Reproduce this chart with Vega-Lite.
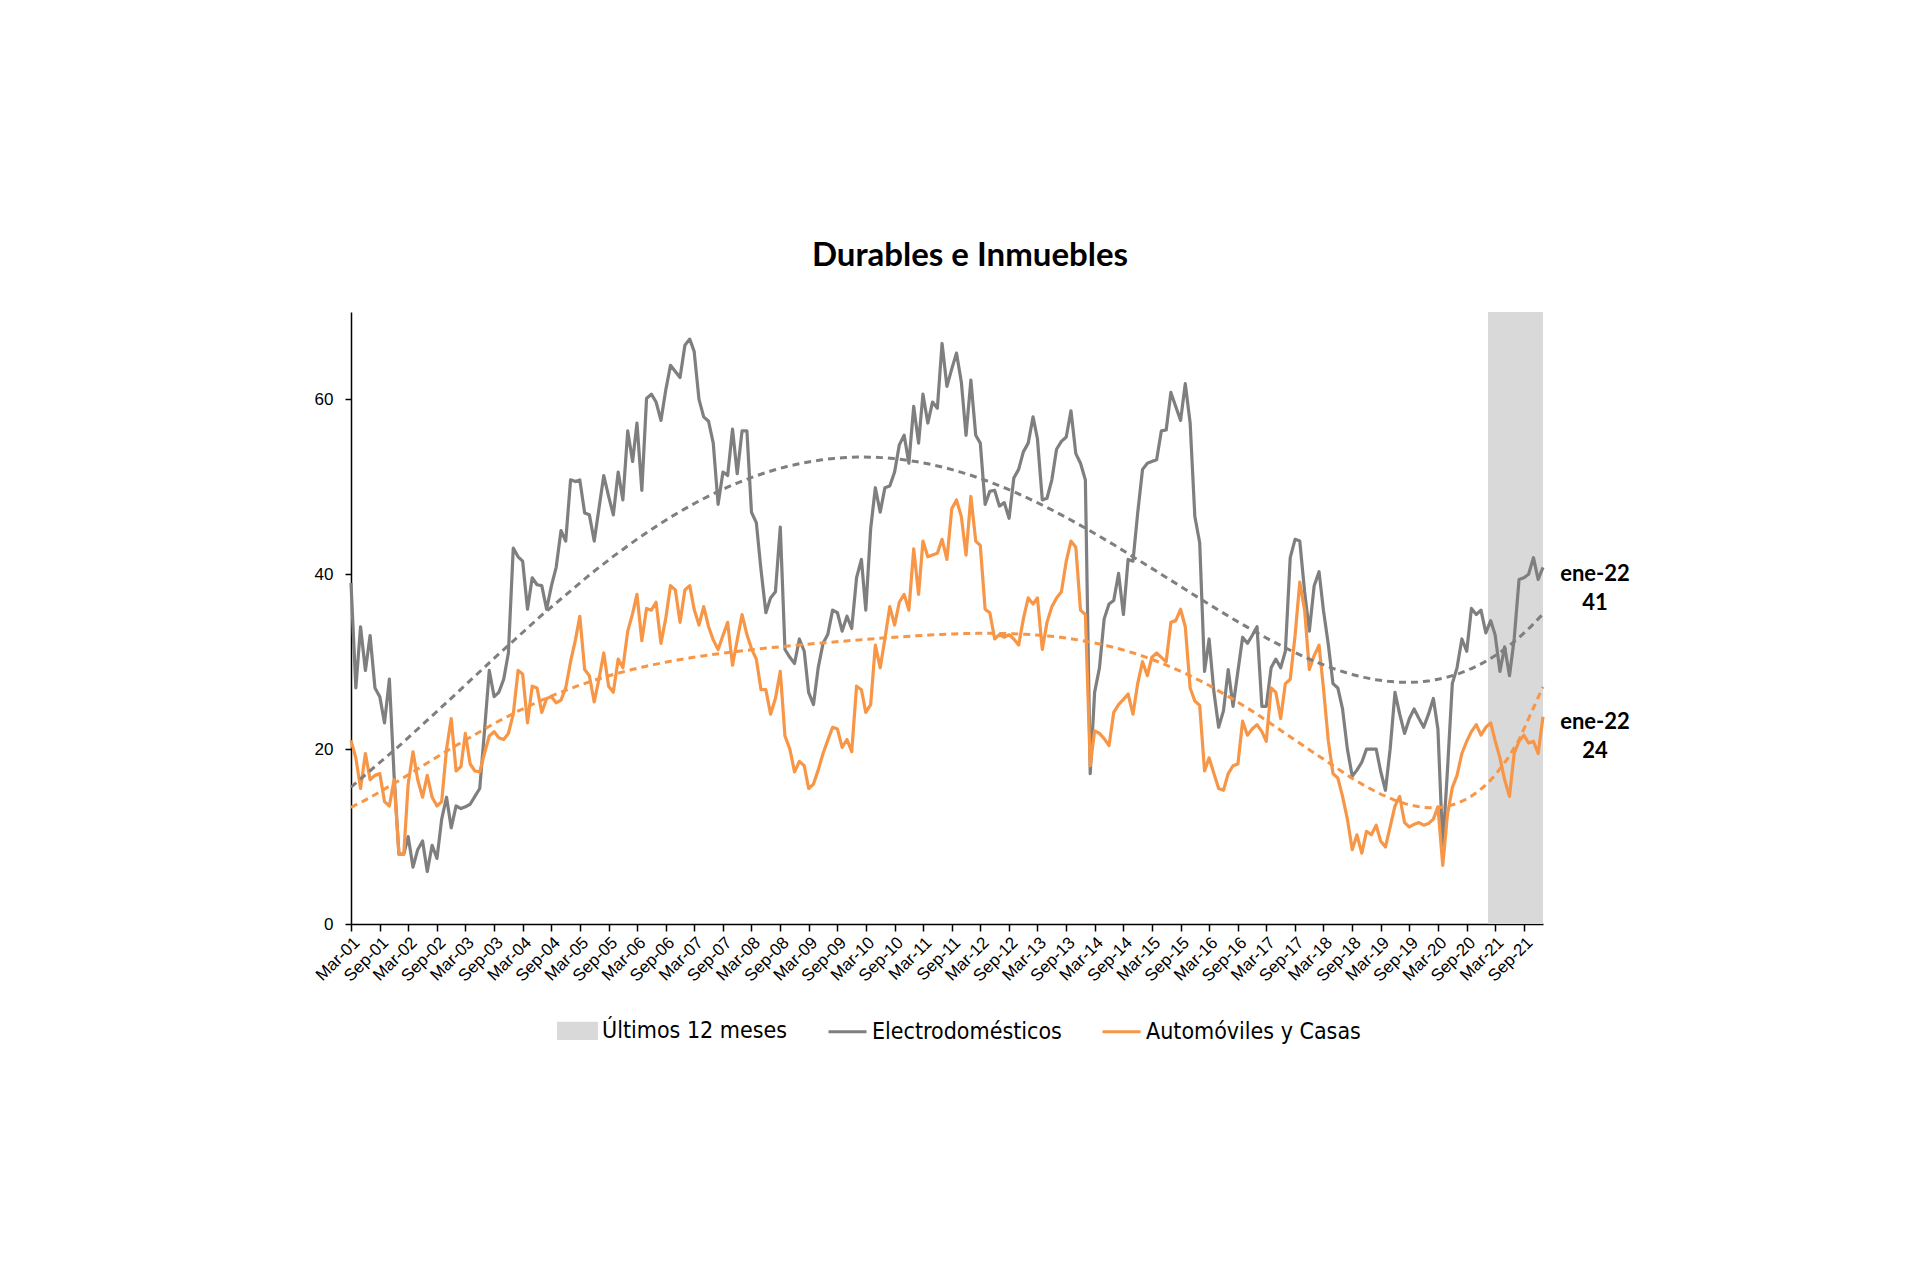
{
 "$schema": "https://vega.github.io/schema/vega-lite/v6.json",
 "width": 1192, "height": 612,
 "autosize": {"type": "none"},
 "padding": {"left": 351, "top": 312, "right": 377, "bottom": 342},
 "background": "white",
 "title": {"text": "Durables e Inmuebles", "font": "Lato", "fontSize": 33, "fontWeight": "bold", "color": "black", "anchor": "middle", "offset": 39, "dx": 23},
 "config": {"view": {"stroke": null}, "axis": {"grid": false, "domainColor": "black", "tickColor": "black", "labelColor": "black", "labelFont": "Liberation Sans", "labelFontSize": 17, "title": null, "domainWidth": 1.5, "tickWidth": 1.5}},
 "data": {"values": [
{"d":"2001-03-01","Electrodomésticos":39,"Automóviles y Casas":21},
{"d":"2001-04-01","Electrodomésticos":27,"Automóviles y Casas":19},
{"d":"2001-05-01","Electrodomésticos":34,"Automóviles y Casas":15.5},
{"d":"2001-06-01","Electrodomésticos":29,"Automóviles y Casas":19.5},
{"d":"2001-07-01","Electrodomésticos":33,"Automóviles y Casas":16.5},
{"d":"2001-08-01","Electrodomésticos":27,"Automóviles y Casas":17},
{"d":"2001-09-01","Electrodomésticos":26,"Automóviles y Casas":17.2},
{"d":"2001-10-01","Electrodomésticos":23,"Automóviles y Casas":14},
{"d":"2001-11-01","Electrodomésticos":28,"Automóviles y Casas":13.5},
{"d":"2001-12-01","Electrodomésticos":17,"Automóviles y Casas":16.5},
{"d":"2002-01-01","Electrodomésticos":8,"Automóviles y Casas":8},
{"d":"2002-02-01","Electrodomésticos":8,"Automóviles y Casas":8},
{"d":"2002-03-01","Electrodomésticos":10,"Automóviles y Casas":16},
{"d":"2002-04-01","Electrodomésticos":6.5,"Automóviles y Casas":19.7},
{"d":"2002-05-01","Electrodomésticos":8.5,"Automóviles y Casas":16.5},
{"d":"2002-06-01","Electrodomésticos":9.5,"Automóviles y Casas":14.5},
{"d":"2002-07-01","Electrodomésticos":6,"Automóviles y Casas":17},
{"d":"2002-08-01","Electrodomésticos":9,"Automóviles y Casas":14.5},
{"d":"2002-09-01","Electrodomésticos":7.5,"Automóviles y Casas":13.5},
{"d":"2002-10-01","Electrodomésticos":12,"Automóviles y Casas":14},
{"d":"2002-11-01","Electrodomésticos":14.5,"Automóviles y Casas":20},
{"d":"2002-12-01","Electrodomésticos":11,"Automóviles y Casas":23.5},
{"d":"2003-01-01","Electrodomésticos":13.5,"Automóviles y Casas":17.5},
{"d":"2003-02-01","Electrodomésticos":13.2,"Automóviles y Casas":18},
{"d":"2003-03-01","Electrodomésticos":13.4,"Automóviles y Casas":21.8},
{"d":"2003-04-01","Electrodomésticos":13.7,"Automóviles y Casas":18.3},
{"d":"2003-05-01","Electrodomésticos":14.6,"Automóviles y Casas":17.5},
{"d":"2003-06-01","Electrodomésticos":15.5,"Automóviles y Casas":17.4},
{"d":"2003-07-01","Electrodomésticos":22,"Automóviles y Casas":19.5},
{"d":"2003-08-01","Electrodomésticos":29,"Automóviles y Casas":21.5},
{"d":"2003-09-01","Electrodomésticos":26,"Automóviles y Casas":22},
{"d":"2003-10-01","Electrodomésticos":26.5,"Automóviles y Casas":21.3},
{"d":"2003-11-01","Electrodomésticos":28,"Automóviles y Casas":21.1},
{"d":"2003-12-01","Electrodomésticos":31,"Automóviles y Casas":21.8},
{"d":"2004-01-01","Electrodomésticos":43,"Automóviles y Casas":24},
{"d":"2004-02-01","Electrodomésticos":42,"Automóviles y Casas":29},
{"d":"2004-03-01","Electrodomésticos":41.5,"Automóviles y Casas":28.6},
{"d":"2004-04-01","Electrodomésticos":36,"Automóviles y Casas":23},
{"d":"2004-05-01","Electrodomésticos":39.6,"Automóviles y Casas":27.2},
{"d":"2004-06-01","Electrodomésticos":38.8,"Automóviles y Casas":27},
{"d":"2004-07-01","Electrodomésticos":38.7,"Automóviles y Casas":24.2},
{"d":"2004-08-01","Electrodomésticos":36,"Automóviles y Casas":25.8},
{"d":"2004-09-01","Electrodomésticos":38.7,"Automóviles y Casas":26},
{"d":"2004-10-01","Electrodomésticos":40.8,"Automóviles y Casas":25.3},
{"d":"2004-11-01","Electrodomésticos":45,"Automóviles y Casas":25.6},
{"d":"2004-12-01","Electrodomésticos":43.8,"Automóviles y Casas":27},
{"d":"2005-01-01","Electrodomésticos":50.8,"Automóviles y Casas":30},
{"d":"2005-02-01","Electrodomésticos":50.6,"Automóviles y Casas":32.5},
{"d":"2005-03-01","Electrodomésticos":50.8,"Automóviles y Casas":35.2},
{"d":"2005-04-01","Electrodomésticos":47,"Automóviles y Casas":29.1},
{"d":"2005-05-01","Electrodomésticos":46.8,"Automóviles y Casas":28.4},
{"d":"2005-06-01","Electrodomésticos":43.8,"Automóviles y Casas":25.4},
{"d":"2005-07-01","Electrodomésticos":47.5,"Automóviles y Casas":28},
{"d":"2005-08-01","Electrodomésticos":51.3,"Automóviles y Casas":31},
{"d":"2005-09-01","Electrodomésticos":48.9,"Automóviles y Casas":27.2},
{"d":"2005-10-01","Electrodomésticos":46.8,"Automóviles y Casas":26.5},
{"d":"2005-11-01","Electrodomésticos":51.7,"Automóviles y Casas":30.3},
{"d":"2005-12-01","Electrodomésticos":48.5,"Automóviles y Casas":29.3},
{"d":"2006-01-01","Electrodomésticos":56.4,"Automóviles y Casas":33.5},
{"d":"2006-02-01","Electrodomésticos":52.9,"Automóviles y Casas":35.5},
{"d":"2006-03-01","Electrodomésticos":57.3,"Automóviles y Casas":37.7},
{"d":"2006-04-01","Electrodomésticos":49.6,"Automóviles y Casas":32.4},
{"d":"2006-05-01","Electrodomésticos":60.1,"Automóviles y Casas":36.1},
{"d":"2006-06-01","Electrodomésticos":60.6,"Automóviles y Casas":35.9},
{"d":"2006-07-01","Electrodomésticos":59.7,"Automóviles y Casas":36.8},
{"d":"2006-08-01","Electrodomésticos":57.6,"Automóviles y Casas":32.1},
{"d":"2006-09-01","Electrodomésticos":61.1,"Automóviles y Casas":35},
{"d":"2006-10-01","Electrodomésticos":63.9,"Automóviles y Casas":38.7},
{"d":"2006-11-01","Electrodomésticos":63.2,"Automóviles y Casas":38.2},
{"d":"2006-12-01","Electrodomésticos":62.5,"Automóviles y Casas":34.5},
{"d":"2007-01-01","Electrodomésticos":66.2,"Automóviles y Casas":38.2},
{"d":"2007-02-01","Electrodomésticos":66.9,"Automóviles y Casas":38.7},
{"d":"2007-03-01","Electrodomésticos":65.5,"Automóviles y Casas":36},
{"d":"2007-04-01","Electrodomésticos":60,"Automóviles y Casas":34.2},
{"d":"2007-05-01","Electrodomésticos":58,"Automóviles y Casas":36.3},
{"d":"2007-06-01","Electrodomésticos":57.5,"Automóviles y Casas":34},
{"d":"2007-07-01","Electrodomésticos":55,"Automóviles y Casas":32.5},
{"d":"2007-08-01","Electrodomésticos":48,"Automóviles y Casas":31.4},
{"d":"2007-09-01","Electrodomésticos":51.7,"Automóviles y Casas":33},
{"d":"2007-10-01","Electrodomésticos":51.3,"Automóviles y Casas":34.5},
{"d":"2007-11-01","Electrodomésticos":56.6,"Automóviles y Casas":29.6},
{"d":"2007-12-01","Electrodomésticos":51.5,"Automóviles y Casas":32.5},
{"d":"2008-01-01","Electrodomésticos":56.4,"Automóviles y Casas":35.4},
{"d":"2008-02-01","Electrodomésticos":56.4,"Automóviles y Casas":33.1},
{"d":"2008-03-01","Electrodomésticos":47.1,"Automóviles y Casas":31.5},
{"d":"2008-04-01","Electrodomésticos":45.9,"Automóviles y Casas":30.3},
{"d":"2008-05-01","Electrodomésticos":40.5,"Automóviles y Casas":26.8},
{"d":"2008-06-01","Electrodomésticos":35.6,"Automóviles y Casas":26.8},
{"d":"2008-07-01","Electrodomésticos":37.3,"Automóviles y Casas":24},
{"d":"2008-08-01","Electrodomésticos":38,"Automóviles y Casas":25.8},
{"d":"2008-09-01","Electrodomésticos":45.4,"Automóviles y Casas":28.9},
{"d":"2008-10-01","Electrodomésticos":31.4,"Automóviles y Casas":21.5},
{"d":"2008-11-01","Electrodomésticos":30.5,"Automóviles y Casas":20},
{"d":"2008-12-01","Electrodomésticos":29.8,"Automóviles y Casas":17.4},
{"d":"2009-01-01","Electrodomésticos":32.6,"Automóviles y Casas":18.6},
{"d":"2009-02-01","Electrodomésticos":31.2,"Automóviles y Casas":18.1},
{"d":"2009-03-01","Electrodomésticos":26.5,"Automóviles y Casas":15.5},
{"d":"2009-04-01","Electrodomésticos":25.1,"Automóviles y Casas":16},
{"d":"2009-05-01","Electrodomésticos":29.3,"Automóviles y Casas":17.6},
{"d":"2009-06-01","Electrodomésticos":32.1,"Automóviles y Casas":19.5},
{"d":"2009-07-01","Electrodomésticos":33.1,"Automóviles y Casas":21},
{"d":"2009-08-01","Electrodomésticos":35.9,"Automóviles y Casas":22.5},
{"d":"2009-09-01","Electrodomésticos":35.6,"Automóviles y Casas":22.3},
{"d":"2009-10-01","Electrodomésticos":33.5,"Automóviles y Casas":20.2},
{"d":"2009-11-01","Electrodomésticos":35.2,"Automóviles y Casas":21.1},
{"d":"2009-12-01","Electrodomésticos":33.8,"Automóviles y Casas":19.7},
{"d":"2010-01-01","Electrodomésticos":39.6,"Automóviles y Casas":27.2},
{"d":"2010-02-01","Electrodomésticos":41.7,"Automóviles y Casas":26.8},
{"d":"2010-03-01","Electrodomésticos":35.9,"Automóviles y Casas":24.2},
{"d":"2010-04-01","Electrodomésticos":45.2,"Automóviles y Casas":25.1},
{"d":"2010-05-01","Electrodomésticos":49.9,"Automóviles y Casas":31.9},
{"d":"2010-06-01","Electrodomésticos":47.1,"Automóviles y Casas":29.3},
{"d":"2010-07-01","Electrodomésticos":49.9,"Automóviles y Casas":32.6},
{"d":"2010-08-01","Electrodomésticos":50.1,"Automóviles y Casas":36.3},
{"d":"2010-09-01","Electrodomésticos":51.7,"Automóviles y Casas":34.2},
{"d":"2010-10-01","Electrodomésticos":54.8,"Automóviles y Casas":36.8},
{"d":"2010-11-01","Electrodomésticos":55.9,"Automóviles y Casas":37.7},
{"d":"2010-12-01","Electrodomésticos":52.7,"Automóviles y Casas":35.9},
{"d":"2011-01-01","Electrodomésticos":59.2,"Automóviles y Casas":42.9},
{"d":"2011-02-01","Electrodomésticos":55,"Automóviles y Casas":37.7},
{"d":"2011-03-01","Electrodomésticos":60.6,"Automóviles y Casas":43.8},
{"d":"2011-04-01","Electrodomésticos":57.3,"Automóviles y Casas":42},
{"d":"2011-05-01","Electrodomésticos":59.7,"Automóviles y Casas":42.2},
{"d":"2011-06-01","Electrodomésticos":59,"Automóviles y Casas":42.4},
{"d":"2011-07-01","Electrodomésticos":66.4,"Automóviles y Casas":44},
{"d":"2011-08-01","Electrodomésticos":61.5,"Automóviles y Casas":41.7},
{"d":"2011-09-01","Electrodomésticos":63.5,"Automóviles y Casas":47.5},
{"d":"2011-10-01","Electrodomésticos":65.3,"Automóviles y Casas":48.5},
{"d":"2011-11-01","Electrodomésticos":62,"Automóviles y Casas":46.6},
{"d":"2011-12-01","Electrodomésticos":55.9,"Automóviles y Casas":42.2},
{"d":"2012-01-01","Electrodomésticos":62.2,"Automóviles y Casas":48.9},
{"d":"2012-02-01","Electrodomésticos":55.9,"Automóviles y Casas":43.8},
{"d":"2012-03-01","Electrodomésticos":55,"Automóviles y Casas":43.3},
{"d":"2012-04-01","Electrodomésticos":48,"Automóviles y Casas":36},
{"d":"2012-05-01","Electrodomésticos":49.5,"Automóviles y Casas":35.6},
{"d":"2012-06-01","Electrodomésticos":49.6,"Automóviles y Casas":32.6},
{"d":"2012-07-01","Electrodomésticos":47.8,"Automóviles y Casas":33.1},
{"d":"2012-08-01","Electrodomésticos":48.2,"Automóviles y Casas":32.8},
{"d":"2012-09-01","Electrodomésticos":46.4,"Automóviles y Casas":33.1},
{"d":"2012-10-01","Electrodomésticos":51,"Automóviles y Casas":32.6},
{"d":"2012-11-01","Electrodomésticos":52,"Automóviles y Casas":31.9},
{"d":"2012-12-01","Electrodomésticos":54,"Automóviles y Casas":34.9},
{"d":"2013-01-01","Electrodomésticos":55,"Automóviles y Casas":37.3},
{"d":"2013-02-01","Electrodomésticos":58,"Automóviles y Casas":36.6},
{"d":"2013-03-01","Electrodomésticos":55.5,"Automóviles y Casas":37.3},
{"d":"2013-04-01","Electrodomésticos":48.5,"Automóviles y Casas":31.4},
{"d":"2013-05-01","Electrodomésticos":48.7,"Automóviles y Casas":34.5},
{"d":"2013-06-01","Electrodomésticos":50.8,"Automóviles y Casas":36.3},
{"d":"2013-07-01","Electrodomésticos":54.3,"Automóviles y Casas":37.3},
{"d":"2013-08-01","Electrodomésticos":55.2,"Automóviles y Casas":38},
{"d":"2013-09-01","Electrodomésticos":55.7,"Automóviles y Casas":41.5},
{"d":"2013-10-01","Electrodomésticos":58.7,"Automóviles y Casas":43.8},
{"d":"2013-11-01","Electrodomésticos":53.8,"Automóviles y Casas":43.1},
{"d":"2013-12-01","Electrodomésticos":52.7,"Automóviles y Casas":35.9},
{"d":"2014-01-01","Electrodomésticos":50.8,"Automóviles y Casas":35.4},
{"d":"2014-02-01","Electrodomésticos":17.2,"Automóviles y Casas":18.1},
{"d":"2014-03-01","Electrodomésticos":26.5,"Automóviles y Casas":22.1},
{"d":"2014-04-01","Electrodomésticos":29.3,"Automóviles y Casas":21.8},
{"d":"2014-05-01","Electrodomésticos":34.9,"Automóviles y Casas":21.2},
{"d":"2014-06-01","Electrodomésticos":36.6,"Automóviles y Casas":20.4},
{"d":"2014-07-01","Electrodomésticos":37,"Automóviles y Casas":24.2},
{"d":"2014-08-01","Electrodomésticos":40.1,"Automóviles y Casas":25.1},
{"d":"2014-09-01","Electrodomésticos":35.4,"Automóviles y Casas":25.7},
{"d":"2014-10-01","Electrodomésticos":41.7,"Automóviles y Casas":26.3},
{"d":"2014-11-01","Electrodomésticos":41.5,"Automóviles y Casas":24},
{"d":"2014-12-01","Electrodomésticos":47,"Automóviles y Casas":27.5},
{"d":"2015-01-01","Electrodomésticos":52,"Automóviles y Casas":30},
{"d":"2015-02-01","Electrodomésticos":52.7,"Automóviles y Casas":28.4},
{"d":"2015-03-01","Electrodomésticos":52.9,"Automóviles y Casas":30.5},
{"d":"2015-04-01","Electrodomésticos":53.1,"Automóviles y Casas":31},
{"d":"2015-05-01","Electrodomésticos":56.4,"Automóviles y Casas":30.5},
{"d":"2015-06-01","Electrodomésticos":56.5,"Automóviles y Casas":30},
{"d":"2015-07-01","Electrodomésticos":60.8,"Automóviles y Casas":34.5},
{"d":"2015-08-01","Electrodomésticos":59.2,"Automóviles y Casas":34.7},
{"d":"2015-09-01","Electrodomésticos":57.6,"Automóviles y Casas":36},
{"d":"2015-10-01","Electrodomésticos":61.8,"Automóviles y Casas":34},
{"d":"2015-11-01","Electrodomésticos":57.3,"Automóviles y Casas":27},
{"d":"2015-12-01","Electrodomésticos":46.6,"Automóviles y Casas":25.5},
{"d":"2016-01-01","Electrodomésticos":43.6,"Automóviles y Casas":25},
{"d":"2016-02-01","Electrodomésticos":28.9,"Automóviles y Casas":17.5},
{"d":"2016-03-01","Electrodomésticos":32.6,"Automóviles y Casas":19},
{"d":"2016-04-01","Electrodomésticos":26.5,"Automóviles y Casas":17.2},
{"d":"2016-05-01","Electrodomésticos":22.5,"Automóviles y Casas":15.5},
{"d":"2016-06-01","Electrodomésticos":24.4,"Automóviles y Casas":15.3},
{"d":"2016-07-01","Electrodomésticos":29.1,"Automóviles y Casas":17.2},
{"d":"2016-08-01","Electrodomésticos":24.9,"Automóviles y Casas":18.1},
{"d":"2016-09-01","Electrodomésticos":28.9,"Automóviles y Casas":18.3},
{"d":"2016-10-01","Electrodomésticos":32.8,"Automóviles y Casas":23.2},
{"d":"2016-11-01","Electrodomésticos":32.1,"Automóviles y Casas":21.6},
{"d":"2016-12-01","Electrodomésticos":33,"Automóviles y Casas":22.3},
{"d":"2017-01-01","Electrodomésticos":34,"Automóviles y Casas":22.8},
{"d":"2017-02-01","Electrodomésticos":24.9,"Automóviles y Casas":22},
{"d":"2017-03-01","Electrodomésticos":24.9,"Automóviles y Casas":20.9},
{"d":"2017-04-01","Electrodomésticos":29.3,"Automóviles y Casas":27},
{"d":"2017-05-01","Electrodomésticos":30.3,"Automóviles y Casas":26.5},
{"d":"2017-06-01","Electrodomésticos":29.3,"Automóviles y Casas":23.5},
{"d":"2017-07-01","Electrodomésticos":31.2,"Automóviles y Casas":27.5},
{"d":"2017-08-01","Electrodomésticos":41.9,"Automóviles y Casas":28},
{"d":"2017-09-01","Electrodomésticos":44,"Automóviles y Casas":33},
{"d":"2017-10-01","Electrodomésticos":43.8,"Automóviles y Casas":39.1},
{"d":"2017-11-01","Electrodomésticos":38,"Automóviles y Casas":35.9},
{"d":"2017-12-01","Electrodomésticos":33.5,"Automóviles y Casas":29.1},
{"d":"2018-01-01","Electrodomésticos":38.7,"Automóviles y Casas":30.7},
{"d":"2018-02-01","Electrodomésticos":40.3,"Automóviles y Casas":31.9},
{"d":"2018-03-01","Electrodomésticos":35.9,"Automóviles y Casas":27},
{"d":"2018-04-01","Electrodomésticos":32,"Automóviles y Casas":21},
{"d":"2018-05-01","Electrodomésticos":27.5,"Automóviles y Casas":17.2},
{"d":"2018-06-01","Electrodomésticos":27,"Automóviles y Casas":16.7},
{"d":"2018-07-01","Electrodomésticos":24.6,"Automóviles y Casas":14.6},
{"d":"2018-08-01","Electrodomésticos":20,"Automóviles y Casas":12},
{"d":"2018-09-01","Electrodomésticos":16.9,"Automóviles y Casas":8.5},
{"d":"2018-10-01","Electrodomésticos":17.6,"Automóviles y Casas":10.2},
{"d":"2018-11-01","Electrodomésticos":18.5,"Automóviles y Casas":8.1},
{"d":"2018-12-01","Electrodomésticos":20,"Automóviles y Casas":10.6},
{"d":"2019-01-01","Electrodomésticos":20,"Automóviles y Casas":10.2},
{"d":"2019-02-01","Electrodomésticos":20,"Automóviles y Casas":11.3},
{"d":"2019-03-01","Electrodomésticos":17.5,"Automóviles y Casas":9.5},
{"d":"2019-04-01","Electrodomésticos":15.3,"Automóviles y Casas":8.8},
{"d":"2019-05-01","Electrodomésticos":20,"Automóviles y Casas":11.1},
{"d":"2019-06-01","Electrodomésticos":26.5,"Automóviles y Casas":13.5},
{"d":"2019-07-01","Electrodomésticos":24,"Automóviles y Casas":14.6},
{"d":"2019-08-01","Electrodomésticos":21.8,"Automóviles y Casas":11.6},
{"d":"2019-09-01","Electrodomésticos":23.5,"Automóviles y Casas":11.1},
{"d":"2019-10-01","Electrodomésticos":24.6,"Automóviles y Casas":11.4},
{"d":"2019-11-01","Electrodomésticos":23.5,"Automóviles y Casas":11.6},
{"d":"2019-12-01","Electrodomésticos":22.5,"Automóviles y Casas":11.3},
{"d":"2020-01-01","Electrodomésticos":24,"Automóviles y Casas":11.5},
{"d":"2020-02-01","Electrodomésticos":25.8,"Automóviles y Casas":12},
{"d":"2020-03-01","Electrodomésticos":22.3,"Automóviles y Casas":13.4},
{"d":"2020-04-01","Electrodomésticos":8.8,"Automóviles y Casas":6.7},
{"d":"2020-05-01","Electrodomésticos":17.6,"Automóviles y Casas":12.5},
{"d":"2020-06-01","Electrodomésticos":27.5,"Automóviles y Casas":15.6},
{"d":"2020-07-01","Electrodomésticos":29.3,"Automóviles y Casas":17},
{"d":"2020-08-01","Electrodomésticos":32.6,"Automóviles y Casas":19.5},
{"d":"2020-09-01","Electrodomésticos":31.2,"Automóviles y Casas":20.9},
{"d":"2020-10-01","Electrodomésticos":36.1,"Automóviles y Casas":22},
{"d":"2020-11-01","Electrodomésticos":35.4,"Automóviles y Casas":22.8},
{"d":"2020-12-01","Electrodomésticos":35.9,"Automóviles y Casas":21.6},
{"d":"2021-01-01","Electrodomésticos":33.3,"Automóviles y Casas":22.5},
{"d":"2021-02-01","Electrodomésticos":34.7,"Automóviles y Casas":23},
{"d":"2021-03-01","Electrodomésticos":33.1,"Automóviles y Casas":21},
{"d":"2021-04-01","Electrodomésticos":28.9,"Automóviles y Casas":19},
{"d":"2021-05-01","Electrodomésticos":31.7,"Automóviles y Casas":16.5},
{"d":"2021-06-01","Electrodomésticos":28.4,"Automóviles y Casas":14.6},
{"d":"2021-07-01","Electrodomésticos":32.6,"Automóviles y Casas":19.5},
{"d":"2021-08-01","Electrodomésticos":39.4,"Automóviles y Casas":20.9},
{"d":"2021-09-01","Electrodomésticos":39.6,"Automóviles y Casas":21.6},
{"d":"2021-10-01","Electrodomésticos":40,"Automóviles y Casas":20.7},
{"d":"2021-11-01","Electrodomésticos":41.9,"Automóviles y Casas":20.9},
{"d":"2021-12-01","Electrodomésticos":39.4,"Automóviles y Casas":19.5},
{"d":"2022-01-01","Electrodomésticos":40.8,"Automóviles y Casas":23.7}
 ], "format": {"parse": {"d": "date"}}},
 "layer": [
  {
   "data": {"values": [{"ini": "2021-01-15", "fin": "2022-01-01"}], "format": {"parse": {"ini": "date", "fin": "date"}}},
   "mark": {"type": "rect", "color": "#d9d9d9"},
   "encoding": {
    "x": {"field": "ini", "type": "temporal",
     "scale": {"type": "utc", "nice": false, "domain": [{"year": 2001, "month": 3, "date": 1, "utc": true}, {"year": 2022, "month": 1, "date": 1, "utc": true}]},
     "axis": {"labelExpr": "utcFormat(datum.value, '%b-%y')", "labelAngle": -45, "tickSize": 7, "labelPadding": 3, "labelOverlap": false, "tickCount": 200,
      "values": {"expr": "[utc(2001,2,1),utc(2001,8,1),utc(2002,2,1),utc(2002,8,1),utc(2003,2,1),utc(2003,8,1),utc(2004,2,1),utc(2004,8,1),utc(2005,2,1),utc(2005,8,1),utc(2006,2,1),utc(2006,8,1),utc(2007,2,1),utc(2007,8,1),utc(2008,2,1),utc(2008,8,1),utc(2009,2,1),utc(2009,8,1),utc(2010,2,1),utc(2010,8,1),utc(2011,2,1),utc(2011,8,1),utc(2012,2,1),utc(2012,8,1),utc(2013,2,1),utc(2013,8,1),utc(2014,2,1),utc(2014,8,1),utc(2015,2,1),utc(2015,8,1),utc(2016,2,1),utc(2016,8,1),utc(2017,2,1),utc(2017,8,1),utc(2018,2,1),utc(2018,8,1),utc(2019,2,1),utc(2019,8,1),utc(2020,2,1),utc(2020,8,1),utc(2021,2,1),utc(2021,8,1)]"}}},
    "x2": {"field": "fin"}
   }
  },
  {
   "transform": [{"fold": ["Electrodomésticos", "Automóviles y Casas"], "as": ["serie", "valor"]}],
   "mark": {"type": "line", "strokeWidth": 3.2, "strokeJoin": "round"},
   "encoding": {
    "x": {"field": "d", "type": "temporal"},
    "y": {"field": "valor", "type": "quantitative", "scale": {"domain": [0, 70], "nice": false},
     "axis": {"values": [0, 20, 40, 60], "tickSize": 6, "labelPadding": 12}},
    "color": {"field": "serie", "type": "nominal",
     "scale": {"domain": ["Últimos 12 meses", "Electrodomésticos", "Automóviles y Casas"], "range": ["#d9d9d9", "#7f7f7f", "#f79646"]},
     "legend": {"orient": "none", "legendX": 206, "legendY": 698, "direction": "horizontal", "title": null,
      "labelFont": "Liberation Sans Narrow, DejaVu Sans Condensed, sans-serif", "labelFontSize": 23, "labelColor": "black", "labelLimit": 600,
      "symbolSize": 1444, "symbolStrokeWidth": 3, "labelOffset": 4, "columnPadding": 34, "symbolType": "stroke",
      "encode": {"symbols": {"update": {
       "shape": {"signal": "datum.value === 'Últimos 12 meses' ? 'M-1,-0.4H1V0.4H-1Z' : 'stroke'"},
       "fill": {"signal": "datum.value === 'Últimos 12 meses' ? '#d9d9d9' : 'transparent'"},
       "stroke": {"signal": "datum.value === 'Últimos 12 meses' ? 'transparent' : (datum.value === 'Electrodomésticos' ? '#7f7f7f' : '#f79646')"},
       "strokeWidth": {"value": 3}
      }}}}
    }
   }
  },
  {
   "transform": [
    {"fold": ["Electrodomésticos"], "as": ["serie", "valor"]},
    {"regression": "valor", "on": "d", "groupby": ["serie"], "method": "poly", "order": 4}
   ],
   "mark": {"type": "line", "strokeWidth": 3, "strokeDash": [7, 5]},
   "encoding": {
    "x": {"field": "d", "type": "temporal"},
    "y": {"field": "valor", "type": "quantitative"},
    "color": {"field": "serie", "type": "nominal"}
   }
  },
  {
   "transform": [
    {"fold": ["Automóviles y Casas"], "as": ["serie", "valor"]},
    {"regression": "valor", "on": "d", "groupby": ["serie"], "method": "poly", "order": 6}
   ],
   "mark": {"type": "line", "strokeWidth": 3, "strokeDash": [7, 5]},
   "encoding": {
    "x": {"field": "d", "type": "temporal"},
    "y": {"field": "valor", "type": "quantitative"},
    "color": {"field": "serie", "type": "nominal"}
   }
  },
  {
   "data": {"values": [
     {"d": "2022-01-01", "v": 41, "t": "ene-22\n41"},
     {"d": "2022-01-01", "v": 24, "t": "ene-22\n24"}
    ], "format": {"parse": {"d": "date"}}},
   "mark": {"type": "text", "font": "Lato", "fontWeight": "bold", "fontSize": 22, "lineBreak": "\n", "lineHeight": 29, "align": "center", "baseline": "top", "dx": 52, "dy": -2, "color": "black"},
   "encoding": {
    "x": {"field": "d", "type": "temporal"},
    "y": {"field": "v", "type": "quantitative"},
    "text": {"field": "t", "type": "nominal"}
   }
  }
 ]
}
